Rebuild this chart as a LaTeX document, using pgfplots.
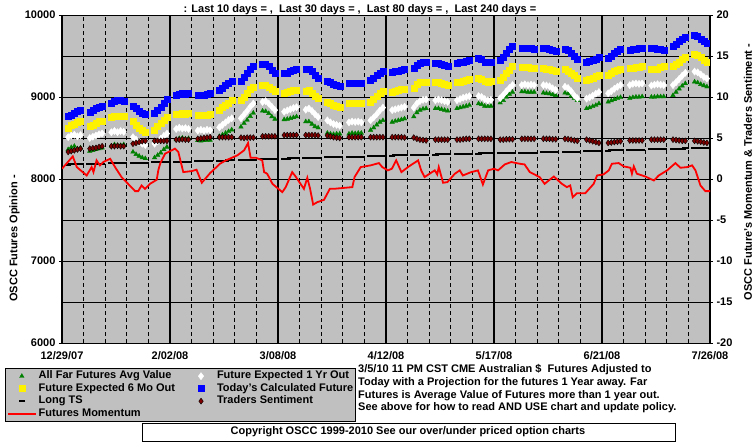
\documentclass[border=0pt]{standalone}
\usepackage{fontspec}
\setmainfont{Liberation Sans}
\usepackage{pgfplots}
\pgfplotsset{compat=1.18}
\usepackage{pgfplotstable}
\definecolor{plotgray}{HTML}{C0C0C0}
\definecolor{dgreen}{HTML}{008000}
\definecolor{maroonc}{HTML}{800000}

\pgfplotstableread{
d blue yel wht grn lts sen
2 8770 8625 8510 8360 8176 3.3
3 8780 8650 8530 8385 8177 3.4
4 8800 8670 8540 8400 8178 3.5
5 8830 8690 8520 8370 8179 3.6
6 8840 8700 8535 8380 8180 3.7
9 8820 8640 8500 8340 8184 3.7
10 8840 8660 8515 8350 8185 3.75
11 8860 8680 8530 8360 8186 3.8
12 8880 8700 8545 8370 8187 3.9
13 8890 8710 8555 8380 8188 4.0
16 8930 8750 8570 8400 8191 4.0
17 8950 8765 8585 8420 8192 4.0
18 8960 8770 8570 8410 8193 4.05
19 8955 8765 8585 8410 8194 4.0
20 8945 8765 8575 8420 8195 4.0
23 8890 8700 8510 8330 8195 4.3
24 8860 8660 8480 8300 8196 4.4
25 8830 8620 8450 8280 8197 4.5
26 8800 8590 8430 8260 8198 4.6
27 8790 8575 8415 8250 8199 4.65
30 8800 8595 8430 8260 8203 4.65
31 8840 8640 8460 8290 8204 4.65
32 8880 8680 8490 8320 8205 4.65
33 8930 8720 8525 8360 8206 4.65
34 8970 8757 8553 8390 8207 4.65
37 9020 8785 8610 8480 8208 4.8
38 9035 8795 8625 8495 8209 4.8
39 9045 8800 8615 8500 8210 4.85
40 9040 8795 8620 8490 8211 4.8
41 9045 8798 8610 8495 8212 4.8
44 9025 8780 8590 8470 8216 4.9
45 9020 8775 8600 8465 8217 4.95
46 9025 8775 8590 8470 8218 5.0
47 9040 8780 8600 8475 8219 5.05
48 9050 8790 8595 8475 8220 5.1
51 9085 8840 8630 8520 8223 5.1
52 9110 8870 8660 8540 8224 5.1
53 9140 8900 8690 8560 8225 5.1
54 9170 8930 8720 8580 8226 5.1
55 9190 8955 8740 8600 8227 5.1
58 9190 8960 8740 8635 8233 5.05
59 9240 9000 8785 8680 8234 5.0
60 9290 9045 8830 8720 8235 5.05
61 9335 9090 8880 8765 8236 5.05
62 9370 9125 8920 8805 8237 5.05
65 9400 9145 8940 8830 8243 5.2
66 9395 9140 8950 8825 8244 5.2
67 9370 9120 8920 8800 8245 5.2
68 9330 9090 8880 8760 8246 5.2
69 9290 9065 8840 8730 8247 5.2
72 9290 9050 8820 8725 8248 5.35
73 9295 9055 8835 8730 8249 5.35
74 9310 9065 8850 8740 8250 5.35
75 9330 9080 8865 8750 8251 5.35
76 9340 9085 8875 8760 8252 5.35
79 9340 9075 8845 8700 8254 5.35
80 9345 9080 8860 8700 8255 5.35
81 9310 9050 8830 8670 8256 5.35
82 9260 9010 8790 8640 8257 5.35
83 9225 8980 8755 8625 8258 5.3
86 9195 8940 8715 8560 8264 5.3
87 9175 8920 8690 8550 8265 5.2
88 9160 8900 8670 8545 8266 5.1
89 9145 8890 8660 8550 8267 5.05
90 9135 8880 8650 8550 8268 5.0
93 9165 8920 8690 8550 8269 5.1
94 9165 8920 8700 8560 8270 5.1
95 9165 8920 8695 8555 8270 5.1
96 9165 8920 8700 8560 8271 5.1
97 9165 8920 8690 8560 8272 5.1
100 9205 8940 8715 8595 8278 5.1
101 9230 8975 8750 8625 8279 5.1
102 9260 9010 8790 8660 8280 5.1
103 9290 9050 8835 8695 8281 5.1
104 9310 9075 8870 8715 8282 5.1
107 9305 9060 8840 8695 8286 5.1
108 9310 9070 8850 8705 8287 5.1
109 9320 9080 8860 8715 8288 5.1
110 9330 9090 8870 8725 8289 5.1
111 9340 9095 8880 8735 8290 5.05
114 9350 9105 8870 8760 8293 5.05
115 9385 9150 8920 8810 8294 4.9
116 9410 9180 8950 8840 8295 4.8
117 9420 9185 8965 8855 8296 4.75
118 9420 9185 8970 8860 8297 4.7
121 9410 9185 8960 8860 8298 4.8
122 9410 9185 8970 8860 8299 4.8
123 9400 9170 8960 8850 8300 4.8
124 9390 9155 8950 8840 8301 4.8
125 9380 9145 8940 8830 8302 4.8
128 9410 9175 8960 8860 8306 4.8
129 9420 9185 8975 8870 8307 4.8
130 9430 9195 8990 8880 8308 4.85
131 9440 9205 9000 8890 8309 4.9
132 9450 9215 9010 8900 8310 4.9
135 9470 9225 9010 8920 8310 4.9
136 9455 9215 9000 8910 8311 4.9
137 9430 9195 8975 8890 8311 4.9
138 9420 9185 8960 8885 8312 4.9
139 9425 9190 8965 8890 8313 4.9
142 9450 9205 8985 8930 8315 4.8
143 9490 9245 9025 8960 8316 4.8
144 9540 9290 9070 9000 8317 4.85
145 9580 9330 9110 9035 8318 4.85
146 9615 9370 9145 9060 8319 4.85
149 9595 9360 9145 9065 8320 4.9
150 9600 9365 9155 9065 8321 4.9
151 9595 9360 9145 9060 8321 4.9
152 9590 9350 9150 9060 8322 4.9
153 9585 9350 9145 9060 8323 4.9
156 9595 9350 9145 9050 8326 4.9
157 9590 9345 9140 9045 8327 4.9
158 9580 9335 9130 9040 8328 4.9
159 9570 9325 9105 9030 8329 4.85
160 9555 9320 9085 9020 8330 4.85
163 9580 9335 9125 9050 8331 4.9
164 9570 9320 9110 9040 8332 4.85
165 9540 9290 9070 9010 8332 4.8
166 9500 9260 9020 8985 8333 4.7
167 9455 9225 8985 8960 8334 4.65
170 9430 9205 8980 8860 8338 4.8
171 9435 9215 8995 8870 8339 4.7
172 9445 9230 9015 8885 8340 4.6
173 9465 9250 9040 8900 8341 4.5
174 9485 9265 9060 8920 8342 4.4
177 9470 9265 9045 8940 8347 4.4
178 9500 9285 9070 8955 8348 4.45
179 9530 9310 9100 8970 8349 4.5
180 9560 9330 9125 8985 8350 4.55
181 9580 9345 9145 8995 8351 4.6
184 9575 9350 9145 8985 8354 4.7
185 9580 9355 9160 8995 8355 4.7
186 9585 9360 9165 9000 8356 4.7
187 9590 9365 9160 9000 8357 4.7
188 9595 9370 9165 9005 8358 4.7
191 9595 9335 9140 9000 8362 4.8
192 9590 9340 9150 9000 8363 4.8
193 9585 9345 9155 9005 8364 4.8
194 9580 9360 9150 9005 8365 4.8
195 9575 9370 9145 9005 8366 4.8
198 9615 9370 9145 9020 8368 4.8
199 9645 9400 9180 9060 8369 4.75
200 9680 9430 9220 9100 8370 4.7
201 9710 9465 9260 9135 8371 4.65
202 9735 9490 9295 9165 8372 4.65
205 9755 9525 9310 9185 8378 4.65
206 9745 9515 9300 9175 8379 4.6
207 9710 9480 9275 9155 8380 4.55
208 9675 9450 9245 9140 8381 4.45
209 9650 9430 9225 9125 8382 4.4
}\fut

\pgfplotstableread{
d mom
0 1.25
3.5 2.76
4.8 1.45
8 0.43
9.6 1.45
10.2 0.84
11.2 2.27
12.3 1.66
13.4 2.07
15.6 2.47
17.2 1.45
19.3 0.23
23.7 -1.48
24.7 -1.48
25.8 -0.79
26.9 -1.2
28.5 -0.59
30.7 -0.1
31.2 1.05
31.8 1.86
33.4 3.09
36.6 3.7
37.7 3.29
39.3 0.84
42 0.96
43.6 1.13
45.3 -0.46
48 0.72
51.2 1.86
53.1 2.27
56.8 2.88
59 3.49
60.3 4.39
61.1 2.6
62.8 2.6
64.9 2.27
65.5 0.84
66.5 0.64
68.2 -0.59
71.4 -1.6
72.5 -0.99
74.6 0.84
75.7 0.31
77.3 -0.59
78.4 -1.2
79.5 0.15
80.4 -1.2
81.4 -3.12
82.7 -2.83
84.9 -2.54
86.8 -1.2
88.1 -1.2
94.1 -0.99
94.8 0.23
96.8 1.45
100 1.66
102.7 1.94
103.8 1.45
105.6 1.05
106.9 1.25
108.3 2.27
110 0.84
112.1 1.45
115.4 2.27
116.4 1.05
117.5 0.23
119.1 0.64
120.8 1.05
121.6 0.56
122.1 1.45
123.5 -0.46
124.9 -0.38
127.3 0.64
128.9 1.05
129.9 0.43
132.6 0.84
134.8 1.05
136.4 -0.67
138.1 1.05
140 1.25
141.3 1.05
143.5 1.78
145.6 2.07
148.3 1.86
149.9 1.78
151.6 0.84
154.8 0.23
156.4 -0.59
158 -0.1
159.4 0.3
162 -0.59
163.6 -0.99
164.7 -0.79
165.5 -2.22
166.9 -1.73
169.6 -1.73
172.3 -0.59
173.4 0.43
175.5 0.56
177.2 1.05
178.2 1.86
180.4 1.94
182 1.54
184.2 1.37
184.7 0.64
185.3 1.54
186.3 0.64
189 0.31
191.8 -0.18
193.4 0.43
196.1 1.05
198.8 1.94
200.4 1.37
202.6 1.45
204.2 1.66
205.3 1.05
206.9 -0.79
208.5 -1.48
210 -1.48
}\mom

\begin{document}
\begin{tikzpicture}[x=1pt,y=1pt,font=\bfseries\fontsize{11}{13}\selectfont]
\useasboundingbox (0,0) rectangle (755,446);
\begin{axis}[
  at={(62pt,103pt)}, anchor=south west,
  width=648pt, height=328pt, scale only axis,
  xmin=0, xmax=210, ymin=6000, ymax=10000,
  scaled y ticks=false, scaled x ticks=false,
  axis background/.style={fill=plotgray},
  axis line style={black, line width=0.8pt},
  xtick={0,35,...,210},
  xticklabels={12/29/07,2/02/08,3/08/08,4/12/08,5/17/08,6/21/08,7/26/08},
  xticklabel style={yshift=-2.5pt},
  xmajorgrids, major grid style={black, line width=1.6pt},
  extra x ticks={7,14,21,28,42,49,56,63,77,84,91,98,112,119,126,133,147,154,161,168,182,189,196,203},
  extra x tick labels={},
  extra x tick style={grid=major, major grid style={black, line width=0.7pt, dash pattern=on 4pt off 3pt}},
  xtick style={draw=none},
  ytick={6000,7000,8000,9000,10000},
  yticklabels={6000,7000,8000,9000,10000},
  minor ytick={6500,7000,7500,8000,8500,9000,9500},
  yminorgrids, minor grid style={black, line width=0.7pt},
  minor tick length=0pt,
  ytick pos=left, tick align=outside, major tick length=3pt,
  ytick style={black, line width=0.8pt},
  /pgf/number format/assume math mode=true,
  tick label style={font=\bfseries\fontsize{11}{13}\selectfont},
  legend columns=2,
  legend cell align=left,
  legend image code/.code={\path[draw=none,fill=none] (0pt,-3pt) rectangle (28pt,3pt);\draw[mark repeat=2,mark phase=2,#1] plot coordinates {(0pt,0pt) (14pt,0pt) (28pt,0pt)};},
  legend style={at={(axis description cs:-0.088,-0.0762)}, anchor=north west,
    fill=plotgray, draw=black, line width=0.9pt, inner sep=1.5pt,
    font=\bfseries\fontsize{11}{13}\selectfont,
    nodes={inner sep=1pt, text height=8pt, text depth=2.5pt},
    /tikz/every odd column/.append style={column sep=1pt},
    /tikz/column 2/.style={column sep=11pt}},
]
\addplot[forget plot, only marks, mark=triangle*, mark size=2.6pt, color=dgreen] table[x=d,y=grn]{\fut};
\addplot[forget plot, only marks, mark=diamond*, mark size=3.6pt, color=white] table[x=d,y=wht]{\fut};
\addplot[forget plot, only marks, mark=square*, mark size=3pt, color=yellow] table[x=d,y=yel]{\fut};
\addplot[forget plot, only marks, mark=square*, mark size=3pt, color=blue] table[x=d,y=blue]{\fut};
\addplot[forget plot, only marks, mark=-, mark size=3.3pt, color=black, mark options={line width=2pt}] table[x=d,y=lts]{\fut};
\addlegendimage{only marks, mark=triangle*, mark size=2.6pt, color=dgreen, line width=0.4pt}
\addlegendentry{All Far Futures Avg Value}
\addlegendimage{only marks, mark=diamond*, mark size=3.6pt, color=white, line width=0.4pt}
\addlegendentry{Future Expected 1 Yr Out}
\addlegendimage{only marks, mark=square*, mark size=3pt, color=yellow, line width=0.4pt}
\addlegendentry{Future Expected 6 Mo Out}
\addlegendimage{only marks, mark=square*, mark size=3pt, color=blue, line width=0.4pt}
\addlegendentry{Today's Calculated Future}
\addlegendimage{only marks, mark=-, mark size=3.3pt, color=black, mark options={line width=2pt}}
\addlegendentry{Long TS}
\addlegendimage{only marks, mark=diamond*, mark size=3pt, color=black, mark options={fill=maroonc, line width=0.4pt}}
\addlegendentry{Traders Sentiment}
\addlegendimage{color=red, line width=1.8pt}
\addlegendentry{Futures Momentum}
\end{axis}
\begin{axis}[
  at={(62pt,103pt)}, anchor=south west,
  width=648pt, height=328pt, scale only axis,
  xmin=0, xmax=210, ymin=-20, ymax=20,
  scaled y ticks=false,
  axis x line=none, axis y line*=right,
  axis line style={black, line width=0.8pt},
  ytick={-20,-15,-10,-5,0,5,10,15,20},
  yticklabels={-20,-15,-10,-5,0,5,10,15,20},
  tick align=outside, major tick length=3pt,
  ytick style={black, line width=0.8pt},
  /pgf/number format/assume math mode=true,
  tick label style={font=\bfseries\fontsize{11}{13}\selectfont},
]
\addplot[only marks, mark=diamond*, mark size=3pt, color=black, mark options={fill=maroonc, line width=0.4pt}] table[x=d,y=sen]{\fut};
\addplot[red, line width=1.8pt] table[x=d,y=mom]{\mom};
\end{axis}
\node[anchor=base] at (360,433.5) {: Last 10 days = ,\ \ Last 30 days = ,\ \ Last 80 days = ,\ \ Last 240 days =};
\node[rotate=90] at (14.5,207.5) {OSCC Futures Opinion -};
\node[rotate=90] at (748,274) {OSCC Future's Momentum \& Traders Sentiment -};
\node[anchor=north west, inner sep=0pt, align=left, font=\bfseries\fontsize{11}{12.6}\selectfont] at (358,81.5)
  {3/5/10 11 PM CST CME Australian \$\ \ Futures Adjusted to\\
   Today with a Projection for the futures 1 Year away. Far\\
   Futures is Average Value of Futures more than 1 year out.\\
   See above for how to read AND USE chart and update policy.};
\draw[black, line width=0.9pt] (142,5) rectangle (675,23);
\node at (408,14) {Copyright OSCC 1999-2010 See our over/under priced option charts};
\end{tikzpicture}
\end{document}
